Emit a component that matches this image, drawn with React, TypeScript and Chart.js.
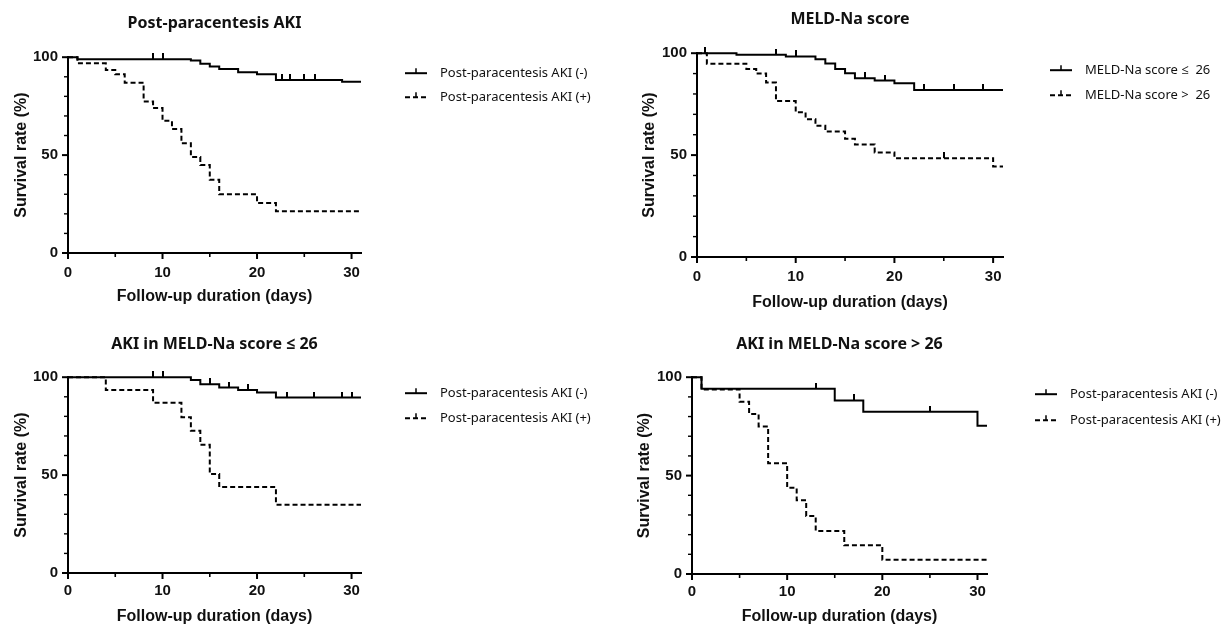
import React, { useEffect, useRef } from "react";
import { Chart, registerables } from "chart.js";

Chart.register(...registerables);

// ---------- axis ticks ----------
const X_TICKS = [0, 5, 10, 15, 20, 25, 30];
const X_LABELS = [0, 10, 20, 30];
const Y_TICKS = [0, 10, 20, 30, 40, 50, 60, 70, 80, 90, 100];
const Y_LABELS = [0, 50, 100];
const X_MAX = 31;

// ---------- Panel 1: Post-paracentesis AKI ----------
const akiNegTimes = [0, 1, 13, 14, 15, 16, 18, 20, 22, 29, 31];
const akiNegSurv = [100, 99, 98.3, 96.6, 95.2, 94, 92.3, 91.3, 88.4, 87.4, 87.4];
const akiNegCensor = [9, 10, 22.6, 23.5, 25, 26.1];
const akiPosTimes = [0, 1, 4, 5, 6, 8, 9, 10, 11, 12, 13, 14, 15, 16, 20, 22, 31];
const akiPosSurv = [100, 96.9, 93.5, 91.3, 87, 77.4, 74, 67.5, 63.3, 56, 49, 45, 37.4, 30, 25.5, 21.3, 21.3];
const akiPosCensor: number[] = [];

// ---------- Panel 2: MELD-Na score ----------
const meldLowTimes = [0, 4, 9, 12, 13, 14, 15, 16, 18, 20, 22, 31];
const meldLowSurv = [100, 99.2, 98.4, 97, 95, 92.2, 90.2, 87.7, 86.6, 85.3, 82, 82];
const meldLowCensor = [0.8, 8, 10, 17, 19, 23, 26, 29];
const meldHighTimes = [0, 1, 5, 6, 7, 8, 10, 11, 12, 13, 15, 16, 18, 20, 30, 31];
const meldHighSurv = [100, 94.8, 92.2, 90, 85.6, 76.5, 71, 67.6, 64.4, 61.6, 58, 55.2, 51.3, 48.5, 44.4, 44.4];
const meldHighCensor = [25];

// ---------- Panel 3: AKI in MELD-Na score <= 26 ----------
const lowAkiNegTimes = [0, 13, 14, 16, 18, 20, 22, 31];
const lowAkiNegSurv = [100, 98.6, 96.4, 94.7, 93.5, 92.2, 89.6, 89.6];
const lowAkiNegCensor = [9, 10, 15, 17, 19, 23.2, 26, 29, 30];
const lowAkiPosTimes = [0, 4, 9, 12, 13, 14, 15, 16, 22, 31];
const lowAkiPosSurv = [100, 93.5, 87, 79.6, 72.6, 65.5, 50.5, 43.9, 34.9, 34.9];
const lowAkiPosCensor: number[] = [];

// ---------- Panel 4: AKI in MELD-Na score > 26 ----------
const highAkiNegTimes = [0, 1, 15, 18, 30, 31];
const highAkiNegSurv = [100, 94.1, 88.2, 82.4, 75.3, 75.3];
const highAkiNegCensor = [13, 17, 25];
const highAkiPosTimes = [0, 1, 5, 6, 7, 8, 10, 11, 12, 13, 16, 20, 31];
const highAkiPosSurv = [100, 93.8, 87.5, 81.3, 75, 56.3, 43.8, 37.5, 29.5, 21.9, 14.6, 7.3, 7.3];
const highAkiPosCensor: number[] = [];

// ---------- labels ----------
const AKI_LABELS = ["Post-paracentesis AKI (-)", "Post-paracentesis AKI (+)"];
const MELD_LABELS = ["MELD-Na score \u2264  26", "MELD-Na score >  26"];
const TITLES = [
  "Post-paracentesis AKI",
  "MELD-Na score",
  "AKI in MELD-Na score \u2264 26",
  "AKI in MELD-Na score > 26",
];
const X_TITLE = "Follow-up duration (days)";
const Y_TITLE = "Survival rate (%)";

const AXIS_FONT = '"Liberation Sans", Arial, sans-serif';
const TEXT_FONT = '"Noto Sans", "Open Sans", sans-serif';
const INK = "#111";

function stepPoints(times: number[], surv: number[]) {
  return times.map((t, i) => ({ x: t, y: surv[i] }));
}

function censorPoints(censor: number[], times: number[], surv: number[]) {
  return censor.map((c) => {
    let idx = 0;
    for (let i = 0; i < times.length; i++) if (times[i] <= c) idx = i;
    return { x: c, y: surv[idx] };
  });
}

const axisTickPlugin = {
  id: "kmAxisTicks",
  afterDraw(chart: any) {
    const ctx = chart.ctx;
    const xs = chart.scales.x;
    const ys = chart.scales.y;
    const area = chart.chartArea;
    ctx.save();
    ctx.setLineDash([]);
    ctx.strokeStyle = "#000";
    for (const t of xs.ticks) {
      const px = xs.getPixelForValue(t.value);
      const major = X_LABELS.includes(t.value);
      ctx.lineWidth = major ? 2 : 1.6;
      ctx.beginPath();
      ctx.moveTo(px, area.bottom);
      ctx.lineTo(px, area.bottom + (major ? 6 : 4));
      ctx.stroke();
    }
    for (const t of ys.ticks) {
      const py = ys.getPixelForValue(t.value);
      const major = Y_LABELS.includes(t.value);
      ctx.lineWidth = major ? 2 : 1.4;
      ctx.beginPath();
      ctx.moveTo(area.left, py);
      ctx.lineTo(area.left - (major ? 6 : 4), py);
      ctx.stroke();
    }
    ctx.restore();
  },
};

const kmLegendPlugin = {
  id: "kmLegend",
  afterDraw(chart: any, _args: any, opts: any) {
    const { ctx, chartArea } = chart;
    const items = chart.data.datasets.filter(
      (d: any) => d.label && !String(d.label).startsWith("_")
    );
    const rows = [opts.row0, opts.row1];
    items.forEach((ds: any, i: number) => {
      const y = chartArea.top + rows[i];
      const x0 = chartArea.right + opts.dx;
      const w = opts.sampleW;
      ctx.save();
      ctx.strokeStyle = ds.borderColor;
      ctx.lineWidth = 2;
      ctx.setLineDash(ds.borderDash || []);
      ctx.beginPath();
      ctx.moveTo(x0, y);
      ctx.lineTo(x0 + w, y);
      ctx.stroke();
      ctx.setLineDash([]);
      ctx.lineWidth = 1.5;
      ctx.beginPath();
      ctx.moveTo(x0 + w / 2, y);
      ctx.lineTo(x0 + w / 2, y - 5);
      ctx.stroke();
      ctx.fillStyle = INK;
      ctx.font = `${opts.fontSize}px ${TEXT_FONT}`;
      ctx.textBaseline = "middle";
      ctx.textAlign = "left";
      ctx.fillText(ds.label, x0 + opts.textDx, y);
      ctx.restore();
    });
  },
};

type Series = { times: number[]; surv: number[]; censor: number[] };

type PanelSpec = {
  title: string;
  labels: string[];
  a: Series;
  b: Series;
  left: number;
  top: number;
  w: number;
  h: number;
  yW: number;
  xH: number;
  padRight: number;
  titlePt: number;
  titlePb: number;
  yTitlePt: number;
  xTitlePb: number;
  xTickPad: number;
  legDx: number;
  legRow0: number;
  legRow1: number;
};

const PANELS: PanelSpec[] = [
  {
    title: TITLES[0],
    labels: AKI_LABELS,
    a: { times: akiNegTimes, surv: akiNegSurv, censor: akiNegCensor },
    b: { times: akiPosTimes, surv: akiPosSurv, censor: akiPosCensor },
    left: 0, top: 0, w: 614, h: 312,
    yW: 68, xH: 59, padRight: 253,
    titlePt: 14, titlePb: 24, yTitlePt: 14, xTitlePb: 7, xTickPad: 5,
    legDx: 44, legRow0: 16, legRow1: 40,
  },
  {
    title: TITLES[1],
    labels: MELD_LABELS,
    a: { times: meldLowTimes, surv: meldLowSurv, censor: meldLowCensor },
    b: { times: meldHighTimes, surv: meldHighSurv, censor: meldHighCensor },
    left: 628, top: 0, w: 601, h: 318,
    yW: 69, xH: 61, padRight: 226,
    titlePt: 10, titlePb: 24, yTitlePt: 14, xTitlePb: 7, xTickPad: 5,
    legDx: 47, legRow0: 17, legRow1: 42,
  },
  {
    title: TITLES[2],
    labels: AKI_LABELS,
    a: { times: lowAkiNegTimes, surv: lowAkiNegSurv, censor: lowAkiNegCensor },
    b: { times: lowAkiPosTimes, surv: lowAkiPosSurv, censor: lowAkiPosCensor },
    left: 0, top: 320, w: 614, h: 305,
    yW: 68, xH: 52, padRight: 253,
    titlePt: 15, titlePb: 23, yTitlePt: 14, xTitlePb: 0, xTickPad: 3,
    legDx: 44, legRow0: 16, legRow1: 41,
  },
  {
    title: TITLES[3],
    labels: AKI_LABELS,
    a: { times: highAkiNegTimes, surv: highAkiNegSurv, censor: highAkiNegCensor },
    b: { times: highAkiPosTimes, surv: highAkiPosSurv, censor: highAkiPosCensor },
    left: 628, top: 320, w: 601, h: 305,
    yW: 64, xH: 51, padRight: 242,
    titlePt: 15, titlePb: 23, yTitlePt: 9, xTitlePb: 0, xTickPad: 3,
    legDx: 48, legRow0: 17, legRow1: 43,
  },
];

function makeTickImage() {
  const c = document.createElement("canvas");
  c.width = 2;
  c.height = 12;
  const g = c.getContext("2d");
  if (g) {
    g.fillStyle = "#000";
    g.fillRect(0, 0, 2, 6);
  }
  return c;
}

function KMPanel({ spec }: { spec: PanelSpec }) {
  const ref = useRef<HTMLCanvasElement | null>(null);

  useEffect(() => {
    if (!ref.current) return;
    const tickImg = makeTickImage();
    const lineDs = (label: string, s: Series, dash: number[]) => ({
      label,
      data: stepPoints(s.times, s.surv),
      stepped: "before" as const,
      borderColor: "#000",
      borderWidth: 2,
      borderDash: dash,
      pointRadius: 0,
      fill: false,
      clip: false,
    });
    const censorDs = (label: string, s: Series) => ({
      label,
      data: censorPoints(s.censor, s.times, s.surv),
      showLine: false,
      pointStyle: tickImg,
      pointRadius: 3,
      borderColor: "#000",
      backgroundColor: "#000",
      clip: false,
    });

    const chart = new Chart(ref.current, {
      type: "line",
      data: {
        datasets: [
          lineDs(spec.labels[0], spec.a, []),
          lineDs(spec.labels[1], spec.b, [5, 3]),
          censorDs("_censorA", spec.a),
          censorDs("_censorB", spec.b),
        ] as any,
      },
      options: {
        animation: false,
        responsive: false,
        maintainAspectRatio: false,
        events: [],
        layout: { padding: { left: 0, top: 0, bottom: 0, right: spec.padRight } },
        plugins: {
          legend: { display: false },
          tooltip: { enabled: false },
          title: {
            display: true,
            text: spec.title,
            fullSize: false,
            color: INK,
            font: { family: TEXT_FONT, size: 16, weight: "bold", lineHeight: 1.2 },
            padding: { top: spec.titlePt, bottom: spec.titlePb },
          },
          kmLegend: {
            dx: spec.legDx,
            row0: spec.legRow0,
            row1: spec.legRow1,
            sampleW: 22,
            textDx: 35,
            fontSize: 13,
          },
        } as any,
        scales: {
          x: {
            type: "linear",
            min: 0,
            max: X_MAX,
            afterFit: (s: any) => {
              s.height = spec.xH;
            },
            afterBuildTicks: (s: any) => {
              s.ticks = X_TICKS.map((v) => ({ value: v }));
            },
            ticks: {
              autoSkip: false,
              maxRotation: 0,
              padding: spec.xTickPad,
              color: INK,
              font: { family: AXIS_FONT, size: 15, weight: "bold", lineHeight: 1.2 },
              callback: (v: any) => (X_LABELS.includes(Number(v)) ? String(v) : ""),
            },
            grid: {
              display: true,
              drawOnChartArea: false,
              drawTicks: true,
              tickLength: 6,
              tickColor: "rgba(0,0,0,0)",
            },
            border: { display: true, color: "#000", width: 2 },
            title: {
              display: true,
              text: X_TITLE,
              color: INK,
              font: { family: AXIS_FONT, size: 16, weight: "bold", lineHeight: 1 },
              padding: { top: 0, bottom: spec.xTitlePb },
            },
          },
          y: {
            type: "linear",
            min: 0,
            max: 100,
            afterFit: (s: any) => {
              s.width = spec.yW;
            },
            afterBuildTicks: (s: any) => {
              s.ticks = Y_TICKS.map((v) => ({ value: v }));
            },
            ticks: {
              autoSkip: false,
              padding: 4,
              color: INK,
              font: { family: AXIS_FONT, size: 15, weight: "bold", lineHeight: 1.2 },
              callback: (v: any) => (Y_LABELS.includes(Number(v)) ? String(v) : ""),
            },
            grid: {
              display: true,
              drawOnChartArea: false,
              drawTicks: true,
              tickLength: 6,
              tickColor: "rgba(0,0,0,0)",
            },
            border: { display: true, color: "#000", width: 2 },
            title: {
              display: true,
              text: Y_TITLE,
              color: INK,
              font: { family: AXIS_FONT, size: 16, weight: "bold", lineHeight: 1 },
              padding: { top: spec.yTitlePt, bottom: 0 },
            },
          },
        },
      } as any,
      plugins: [axisTickPlugin, kmLegendPlugin],
    });

    return () => chart.destroy();
  }, [spec]);

  return (
    <canvas
      ref={ref}
      width={spec.w}
      height={spec.h}
      style={{
        position: "absolute",
        left: spec.left,
        top: spec.top,
        width: spec.w,
        height: spec.h,
        display: "block",
      }}
    />
  );
}

export default function App() {
  return (
    <div
      style={{
        position: "absolute",
        left: 0,
        top: 0,
        width: 1229,
        height: 625,
        background: "#fff",
        overflow: "hidden",
      }}
    >
      {PANELS.map((p, i) => (
        <KMPanel key={i} spec={p} />
      ))}
    </div>
  );
}
